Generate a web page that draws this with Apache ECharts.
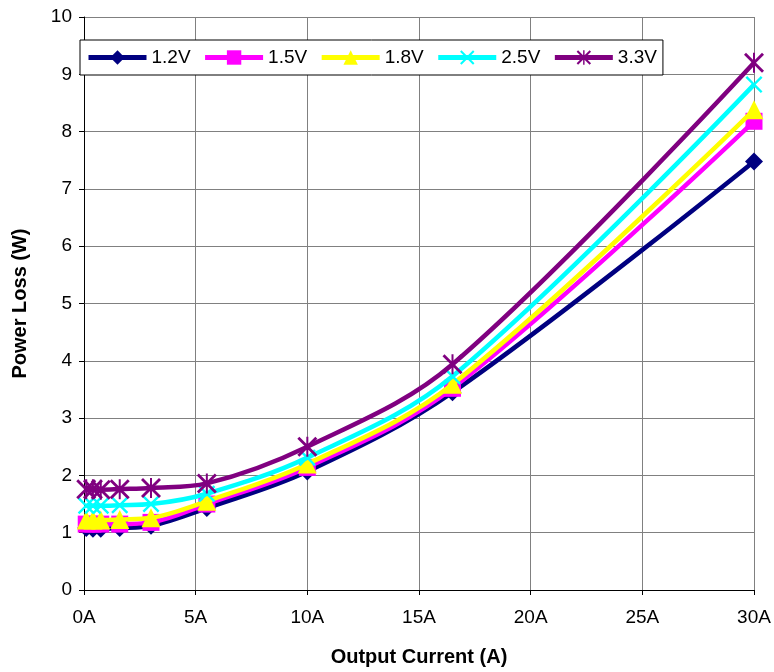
<!DOCTYPE html>
<html>
<head>
<meta charset="utf-8">
<script src="https://cdn.jsdelivr.net/npm/echarts@6/dist/echarts.min.js"></script>
<style>html,body{margin:0;padding:0;background:#fff}#c{width:774px;height:672px}</style>
</head>
<body>
<div id="c"></div>
<script>
const currents = [0.1, 0.4, 0.75, 1.6, 3, 5.5, 10, 16.5, 30];
const seriesNames = ['1.2V', '1.5V', '1.8V', '2.5V', '3.3V'];
const loss12 = [1.08, 1.07, 1.07, 1.08, 1.12, 1.43, 2.07, 3.45, 7.48];
const loss15 = [1.15, 1.15, 1.15, 1.15, 1.18, 1.50, 2.14, 3.52, 8.18];
const loss18 = [1.22, 1.22, 1.22, 1.23, 1.26, 1.55, 2.20, 3.59, 8.38];
const loss25 = [1.47, 1.47, 1.47, 1.48, 1.50, 1.68, 2.31, 3.73, 8.82];
const loss33 = [1.76, 1.76, 1.75, 1.76, 1.78, 1.86, 2.50, 3.94, 9.20];
const yTicks = [0, 1, 2, 3, 4, 5, 6, 7, 8, 9, 10];
const xTicks = [0, 5, 10, 15, 20, 25, 30];

const FONT = '"Liberation Sans", Arial, sans-serif';
const xPath = 'path://M0,2 L2,0 L10,8 L18,0 L20,2 L12,10 L20,18 L18,20 L10,12 L2,20 L0,18 L8,10 Z';
const astPath = 'path://M0,2 L2,0 L10,8 L18,0 L20,2 L12,10 L20,18 L18,20 L10,12 L2,20 L0,18 L8,10 Z M9,0 L11,0 L11,20 L9,20 Z';

const allLoss = [loss12, loss15, loss18, loss25, loss33];
const colors = ['#000080', '#FF00FF', '#FFFF00', '#00FFFF', '#800080'];
const symbols = ['diamond', 'rect', 'triangle', xPath, astPath];
const sizes = [18, 17, 19, 17, 20];

const series = seriesNames.map((n, i) => ({
  name: n,
  type: 'line',
  data: currents.map((x, j) => [x, allLoss[i][j]]),
  smooth: 0.35,
  symbol: symbols[i],
  symbolSize: sizes[i],
  showAllSymbol: true,
  clip: false,
  lineStyle: { color: colors[i], width: 4.5 },
  itemStyle: { color: colors[i], borderWidth: 0 },
  emphasis: { disabled: true },
  z: 2 + i
}));

const chart = echarts.init(document.getElementById('c'), null, { renderer: 'canvas' });
chart.setOption({
  animation: false,
  backgroundColor: '#fff',
  grid: { left: 84, right: 20, top: 17, bottom: 81, containLabel: false },
  legend: {
    data: seriesNames,
    left: 80, top: 40,
    itemWidth: 58, itemHeight: 18, itemGap: 12,
    padding: [8, 6, 8, 6],
    backgroundColor: '#fff',
    borderColor: '#000', borderWidth: 1, borderRadius: 0,
    lineStyle: { width: 5 },
    textStyle: { fontFamily: FONT, fontSize: 19, color: '#000' },
    z: 10
  },
  xAxis: {
    type: 'value', min: xTicks[0], max: xTicks[xTicks.length - 1], interval: 5,
    name: 'Output Current (A)', nameLocation: 'middle', nameGap: 57,
    nameTextStyle: { fontFamily: FONT, fontSize: 20, fontWeight: 'bold', color: '#000' },
    axisLine: { lineStyle: { color: '#000', width: 1 } },
    axisTick: { inside: false, length: 5, lineStyle: { color: '#000' } },
    axisLabel: { formatter: v => v + 'A', fontFamily: FONT, fontSize: 19, color: '#000', margin: 18 },
    splitLine: { show: true, lineStyle: { color: '#808080', width: 1 } }
  },
  yAxis: {
    type: 'value', min: yTicks[0], max: yTicks[yTicks.length - 1], interval: 1,
    name: 'Power Loss (W)', nameLocation: 'middle', nameGap: 54, nameRotate: 90,
    nameTextStyle: { fontFamily: FONT, fontSize: 20, fontWeight: 'bold', color: '#000' },
    axisLine: { show: true, lineStyle: { color: '#000', width: 1 } },
    axisTick: { show: true, inside: false, length: 5, lineStyle: { color: '#000' } },
    axisLabel: { fontFamily: FONT, fontSize: 19, color: '#000', margin: 12 },
    splitLine: { show: true, lineStyle: { color: '#808080', width: 1 } }
  },
  series: series
});
</script>
</body>
</html>
